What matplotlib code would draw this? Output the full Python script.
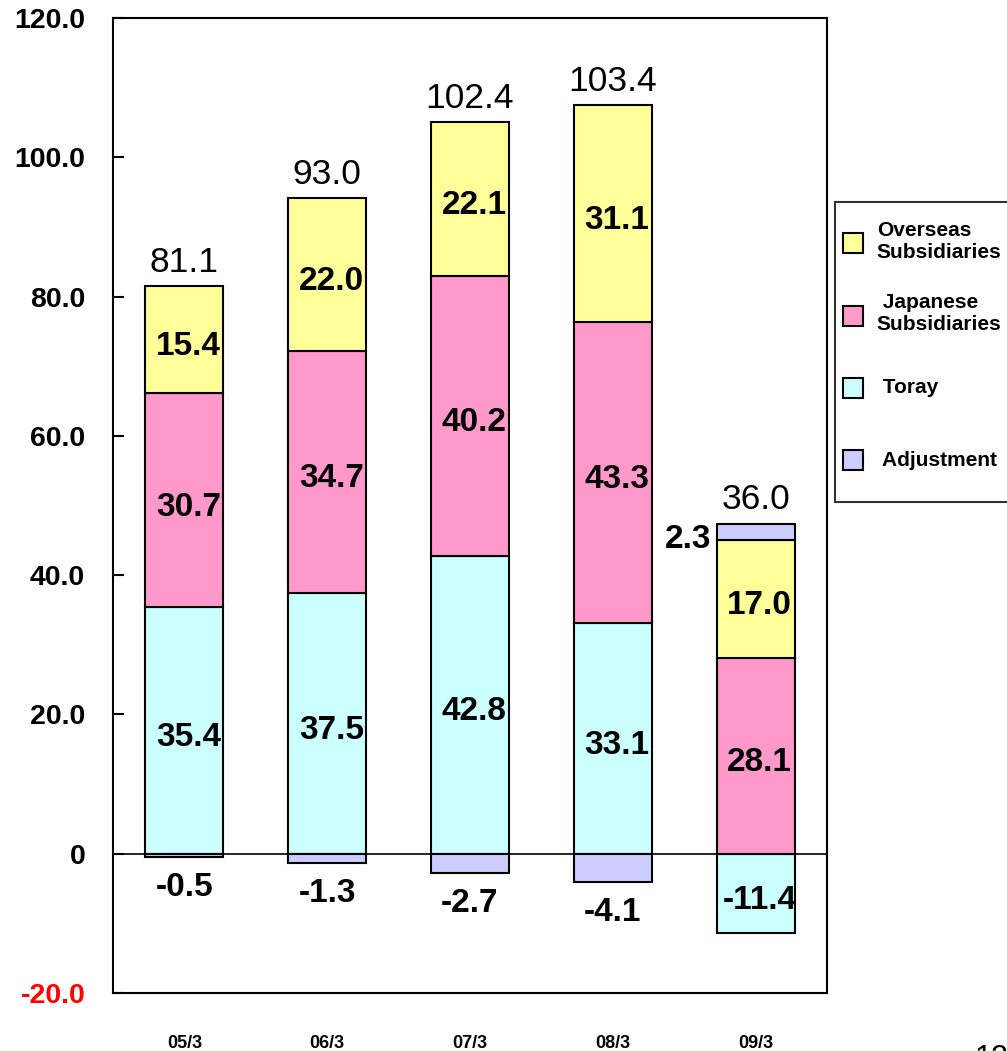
import matplotlib
matplotlib.use("Agg")
import matplotlib.pyplot as plt
import numpy as np
from matplotlib.patches import Patch, Rectangle
from matplotlib.legend_handler import HandlerPatch

plt.rcParams["font.family"] = ["Liberation Sans", "DejaVu Sans"]

# fiscal years
years = ["05/3", "06/3", "07/3", "08/3", "09/3"]

# operating income by segment (billion yen)
toray = [35.4, 37.5, 42.8, 33.1, -11.4]
japanese = [30.7, 34.7, 40.2, 43.3, 28.1]
overseas = [15.4, 22.0, 22.1, 31.1, 17.0]
adjustment = [-0.5, -1.3, -2.7, -4.1, 2.3]
totals = [81.1, 93.0, 102.4, 103.4, 36.0]

ytick_values = [-20, 0, 20, 40, 60, 80, 100, 120]
ytick_labels = ["-20.0", "0", "20.0", "40.0", "60.0", "80.0", "100.0", "120.0"]

# stacking order, bottom to top
series = [
    ("Toray", toray, "#CCFFFF"),
    ("Japanese", japanese, "#FF99CC"),
    ("Overseas", overseas, "#FFFF99"),
    ("Adjustment", adjustment, "#CCCCFF"),
]
legend_labels = {
    "Overseas": "Overseas\nSubsidiaries",
    "Japanese": " Japanese\nSubsidiaries",
    "Toray": " Toray",
    "Adjustment": " Adjustment",
}
legend_order = ["Overseas", "Japanese", "Toray", "Adjustment"]

fig = plt.figure(figsize=(10.07, 10.51), dpi=100)
ax = fig.add_axes([113 / 1007, 1 - 993 / 1051, 714 / 1007, 975 / 1051])

x = np.arange(len(years))
width = 0.545
pos_base = np.zeros(len(years))
neg_base = np.zeros(len(years))
colors = {}
for name, vals, color in series:
    colors[name] = color
    vals = np.array(vals, dtype=float)
    bottoms = np.where(vals >= 0, pos_base, neg_base)
    ax.bar(x, vals, width, bottom=bottoms, color=color,
           edgecolor="black", linewidth=1.5, zorder=2)
    for i, v in enumerate(vals):
        if name == "Adjustment":
            if v < 0:
                # below the bar
                ax.annotate(f"{v:.1f}", (x[i], bottoms[i] + v), xytext=(0, -22),
                            textcoords="offset points", ha="center", va="center",
                            fontsize=24, fontweight="bold")
            else:
                # left of the thin top piece
                ax.annotate(f"{v:.1f}", (x[i] - width / 2, bottoms[i] + v / 2),
                            xytext=(-4, -6), textcoords="offset points",
                            ha="right", va="center", fontsize=24,
                            fontweight="bold")
        else:
            ax.annotate(f"{v:.1f}", (x[i], bottoms[i] + v / 2), xytext=(3, -5),
                        textcoords="offset points", ha="center", va="center",
                        fontsize=24, fontweight="bold")
    pos_base = pos_base + np.where(vals >= 0, vals, 0)
    neg_base = neg_base + np.where(vals < 0, vals, 0)

# totals above each stack
for i, t in enumerate(totals):
    ax.annotate(f"{t:.1f}", (x[i], pos_base[i]), xytext=(0, 17),
                textcoords="offset points", ha="center", va="center",
                fontsize=25.5)

ax.axhline(0, color="black", linewidth=1.2, zorder=3)

ax.set_xlim(-0.5, len(years) - 0.5)
ax.set_ylim(-20, 120)
ax.set_yticks(ytick_values)
ax.set_yticklabels(ytick_labels, fontsize=20.5, fontweight="bold")
ax.get_yticklabels()[0].set_color("red")
ax.tick_params(axis="y", direction="in", length=8, width=1.5, pad=20)
ax.set_xticks(x)
ax.set_xticklabels(years, fontsize=13, fontweight="bold")
ax.tick_params(axis="x", length=0, pad=30.5)
for sp in ax.spines.values():
    sp.set_linewidth(1.5)


def square_patch(legend, orig_handle, xdescent, ydescent, width, height, fontsize):
    side = width
    return Rectangle((-xdescent, -ydescent + (height - side) / 2), side, side)


handles = [Patch(facecolor=colors[n], edgecolor="black", linewidth=1.5,
                 label=legend_labels[n]) for n in legend_order]
leg = fig.legend(handles=handles, loc="upper left",
                 bbox_to_anchor=(835 / 1007, 1 - 202 / 1051),
                 prop={"weight": "bold", "size": 15}, frameon=True,
                 fancybox=False, edgecolor="black", handlelength=0.95,
                 handleheight=4.5, handletextpad=0.65, labelspacing=0.3,
                 borderpad=0.4, borderaxespad=0,
                 handler_map={Patch: HandlerPatch(patch_func=square_patch)})
leg.get_frame().set_linewidth(1.5)

# page number at the bottom edge
fig.text(975 / 1007, 1 - 1044 / 1051, "12", fontsize=22, va="top", ha="left")

fig.savefig("out.png", dpi=100)
